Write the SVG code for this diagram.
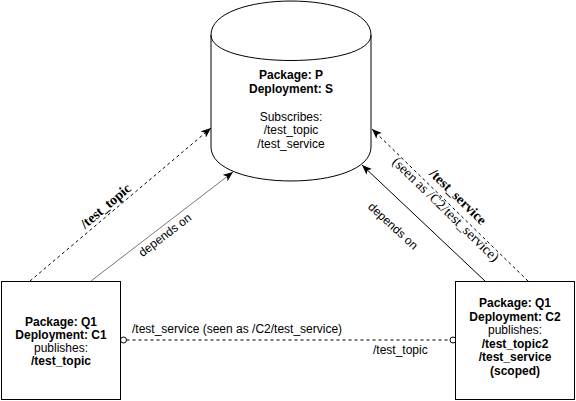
<svg xmlns="http://www.w3.org/2000/svg" width="576" height="401" viewBox="0 0 576 401">
<defs>
<style>
.shape{fill:#fff;stroke:#000;stroke-width:1}
.t{font-family:"Liberation Sans",Arial,Helvetica,sans-serif;font-size:12px;fill:#000;text-anchor:middle}
.b{font-weight:bold}
.lbl{font-family:"Liberation Sans",Arial,Helvetica,sans-serif;font-size:12px;fill:#000}
.slbl{font-family:"Liberation Serif","Times New Roman",serif;font-size:14px;fill:#000;text-anchor:middle}
.dash{fill:none;stroke:#000;stroke-width:1;stroke-dasharray:3 3}
.solid{fill:none;stroke:#000;stroke-width:1}
.gray{fill:none;stroke:#777;stroke-width:1}
.oval{fill:#fff;stroke:#000;stroke-width:1}
</style>
<marker id="arrow" viewBox="0 0 10 8" refX="10" refY="4" markerWidth="10" markerHeight="8" markerUnits="userSpaceOnUse" orient="auto">
<path d="M0,0 L10,4 L0,8 L2.5,4 Z" fill="#000"/>
</marker>
</defs>
<rect width="576" height="401" fill="#fff"/>

<g id="connectors">
<path id="e-topic" class="dash" d="M30,281 L211,128" marker-end="url(#arrow)"/>
<path id="e-dep-left" class="gray" d="M91,281 L233,172" marker-end="url(#arrow)"/>
<path id="e-dep-right" class="solid" d="M485,281 L362,165" marker-end="url(#arrow)"/>
<path id="e-service" class="dash" d="M528,281 L372,129" marker-end="url(#arrow)"/>
<path id="e-link" class="dash" d="M126.5,340 L450,340"/>
<circle class="oval" cx="123.5" cy="340" r="3"/>
<circle class="oval" cx="453" cy="340" r="3"/>
<text class="slbl b" transform="translate(105.7,206) rotate(-40.2)" y="4.5">/test_topic</text>
<text class="lbl" text-anchor="middle" transform="translate(165,235) rotate(-37.3)" y="4">depends on</text>
<text class="lbl" text-anchor="middle" transform="translate(393,226) rotate(42.8)" y="4">depends on</text>
<g transform="translate(450,205) rotate(44.3)">
<text class="slbl b" y="-7">/test_service</text>
<text class="slbl" y="10.6">(seen as /C2/test_service)</text>
</g>
<text class="lbl" x="132" y="333">/test_service (seen as /C2/test_service)</text>
<text class="lbl" x="373" y="354">/test_topic</text>
</g>

<g id="node-P">
<path class="shape" d="M211,35 C211,-10.3 371,-10.3 371,35 L371,147 C371,192.3 211,192.3 211,147 Z"/>
<path class="shape" style="fill:none" d="M211,35 C211,69 371,69 371,35"/>
<text class="t b" x="291" y="79">Package: P</text>
<text class="t b" x="291" y="92.7">Deployment: S</text>
<text class="t" x="291" y="120.5">Subscribes:</text>
<text class="t" x="291" y="134.2">/test_topic</text>
<text class="t" x="291" y="148">/test_service</text>
</g>

<g id="node-C1">
<rect class="shape" x="1.5" y="281.5" width="119" height="118"/>
<text class="t b" x="61" y="326">Package: Q1</text>
<text class="t" x="61" y="339"><tspan class="b">Deployment:</tspan><tspan class="b"> C1</tspan></text>
<text class="t" x="61" y="352">publishes:</text>
<text class="t b" x="61" y="365">/test_topic</text>
</g>

<g id="node-C2">
<rect class="shape" x="455.5" y="281.5" width="119" height="118"/>
<text class="t b" x="515" y="307">Package: Q1</text>
<text class="t b" x="515" y="320.6">Deployment: C2</text>
<text class="t" x="515" y="334.2">publishes:</text>
<text class="t b" x="515" y="347.8">/test_topic2</text>
<text class="t b" x="515" y="361.4">/test_service</text>
<text class="t b" x="515" y="375">(scoped)</text>
</g>
</svg>
